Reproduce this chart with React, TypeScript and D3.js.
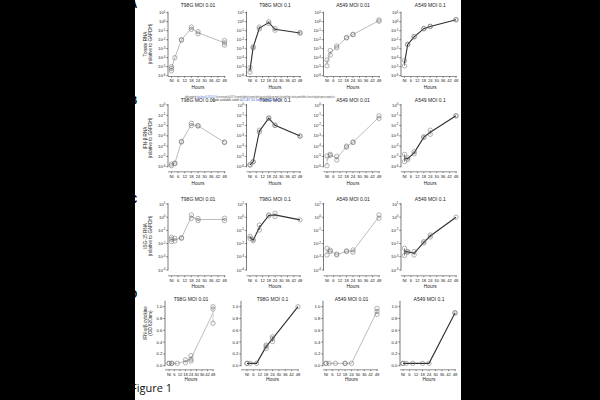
import * as d3 from "d3";

// time points (NI plotted at 0 h)
const hours = [0, 3, 9, 18, 24, 48];
const xTickValues = [0, 6, 12, 18, 24, 30, 36, 42, 48];
const xTickLabels = ["NI", "6", "12", "18", "24", "30", "36", "42", "48"];

const panelTitles = ["T98G MOI 0.01", "T98G MOI 0.1", "A549 MOI 0.01", "A549 MOI 0.1"];
const rowLabels = [
  ["Tonate RNA", "(relative to GAPDH)"],
  ["IFN-\u03b2 RNA", "(relative to GAPDH)"],
  ["ISG-15 RNA", "(relative to GAPDH)"],
  ["IFN-\u03b1/\u03b2 cytokine", "(OD 620nm)"],
];
const panelLetters = ["A", "B", "C", "D"];

// log10 exponents of RNA (relative to GAPDH), replicates per time point
const tonateT98G001 = [[-5.0, -5.45, -5.2], [-4.0], [-2.0, -2.05], [-0.6, -0.85], [-1.1, -1.35], [-2.1, -2.35, -2.6]];
const tonateT98G01 = [[-5.1, -5.6], [-2.8, -2.9], [-0.6, -0.8], [0.0, -0.2], [-0.75, -0.95], [-1.2, -1.3]];
const tonateA549001 = [[-4.25, -4.9], [-3.7, -3.2], [-2.9, -2.7], [-1.75, -1.8], [-1.4, -1.45], [0.2, 0.05]];
const tonateA54901 = [[-4.3, -4.9], [-2.5, -2.55], [-1.65, -1.7], [-0.75, -0.8], [-0.5, -0.55], [0.2, 0.25]];

const ifnbT98G001 = [[-5.9, -5.75], [-5.65, -5.7], [-3.55, -3.6], [-1.78, -2.0], [-2.0, -2.05], [-3.6, -3.65]];
const ifnbT98G01 = [[-5.8, -5.85], [-5.5, -5.55], [-2.65, -2.45], [-1.25, -1.3], [-1.95, -2.0], [-3.0, -3.05]];
const ifnbA549001 = [[-5.9, -4.95], [-4.8, -4.9], [-5.0, -5.35], [-4.0, -4.1], [-3.6, -3.65], [-1.05, -1.3]];
const ifnbA54901 = [[-4.8, -5.5], [-5.15, -5.3], [-4.55, -4.75], [-3.1, -3.15], [-2.45, -2.85], [-1.05, -1.05]];

const isg15T98G001 = [[-1.52, -1.67, -1.85], [-1.6, -1.8], [-1.55, -1.6], [0.17, -0.08], [-0.26, -0.1], [-0.08, -0.26]];
const isg15T98G01 = [[-1.45, -1.6], [-1.78, -1.7], [-0.97, -0.6], [0.17, 0.1], [0.3, 0.05], [-0.2]];
const isg15A549001 = [[-2.36, -2.86], [-2.6, -2.5], [-2.86, -2.8], [-2.6, -2.55], [-2.48, -2.65], [0.17, -0.08]];
const isg15A54901 = [[-2.36, -2.9], [-2.6, -2.65], [-2.6, -2.86], [-1.85, -1.95], [-1.35, -1.5], [0.0]];

// IFN-a/b bioassay, OD 620nm
const cytoT98G001 = [[0.04, 0.04], [0.04, 0.04], [0.04], [0.05, 0.1], [0.08, 0.11, 0.17], [0.72, 0.96, 1.0]];
const cytoT98G01 = [[0.04, 0.04], [0.04], [0.04], [0.29, 0.35, 0.33], [0.41, 0.46, 0.49], [1.0]];
const cytoA549001 = [[0.04, 0.04], [0.04], [0.04], [0.04, 0.04], [0.04], [0.97, 0.92, 0.87]];
const cytoA54901 = [[0.04, 0.04], [0.04], [0.04], [0.04], [0.04], [0.89, 0.9]];

const rowData = [
  [tonateT98G001, tonateT98G01, tonateA549001, tonateA54901],
  [ifnbT98G001, ifnbT98G01, ifnbA549001, ifnbA54901],
  [isg15T98G001, isg15T98G01, isg15A549001, isg15A54901],
  [cytoT98G001, cytoT98G01, cytoA549001, cytoA54901],
];
const logExtents = [[-6, 1], [-6, 0], [-4, 1]];

// layout
const rows = [
  { top: 12.7, bottom: 75.7, titleY: 5, tickY: 80.7, hoursY: 87.3, labelY: 44, letterY: 8 },
  { top: 105, bottom: 166.7, titleY: 100, tickY: 176, hoursY: 183.3, labelY: 138, letterY: 104 },
  { top: 204, bottom: 270, titleY: 199.5, tickY: 280, hoursY: 286.7, labelY: 236, letterY: 203 },
  { top: 306.7, bottom: 365.7, titleY: 299, tickY: 374, hoursY: 379.7, labelY: 323, letterY: 298 },
];
const axisX = [
  [168, 246.5, 323.5, 401],
  [168, 246.5, 323.5, 401],
  [168, 246.5, 323.5, 401],
  [165, 241, 323, 400],
];
const plotX = [
  [[171.5, 224.5], [250, 300], [327, 379], [404.5, 456]],
  [[171.5, 224.5], [250, 300], [327, 379], [404.5, 456]],
  [[171.5, 224.5], [250, 300], [327, 379], [404.5, 456]],
  [[169, 213], [247, 298], [326, 377], [403, 455]],
];
const lineColors = ["#b4b4b4", "#2e2e2e", "#b4b4b4", "#2e2e2e"];
const FONT = "'Liberation Sans', Arial, sans-serif";

type PanelProps = { r: number; c: number };

const Panel = ({ r, c }: PanelProps) => {
  const row = rows[r];
  const ax = axisX[r][c];
  const [x0, x1] = plotX[r][c];
  const x = d3.scaleLinear().domain([0, 48]).range([x0, x1]);
  const isLog = r < 3;
  const raw = rowData[r][c];
  const values = raw.map((reps) => reps.map((v) => (isLog ? Math.pow(10, v) : v)));
  let y: (v: number) => number;
  let yTicks: { v: number; label: any }[] = [];
  let axisTop = row.top;
  if (isLog) {
    const [lo, hi] = logExtents[r];
    const s = d3.scaleLog().domain([Math.pow(10, lo), Math.pow(10, hi)]).range([row.bottom, row.top]);
    y = (v) => s(v);
    yTicks = d3.range(lo, hi + 1).map((e) => ({
      v: Math.pow(10, e),
      label: (
        <>
          <tspan>10</tspan>
          <tspan dy={-1.6} fontSize={3}>
            {e}
          </tspan>
        </>
      ),
    }));
    axisTop = row.top - 1;
  } else {
    const s = d3.scaleLinear().domain([0, 1]).range([row.bottom, row.top]);
    y = (v) => s(v);
    yTicks = d3.range(0, 1.01, 0.2).map((v) => ({ v, label: d3.format(".1f")(v) }));
    axisTop = s(1.1);
  }
  const means = values.map((reps) =>
    isLog ? Math.pow(10, d3.mean(reps.map((v) => Math.log10(v))) as number) : (d3.mean(reps) as number)
  );
  const line = d3
    .line<number>()
    .x((_, i) => x(hours[i]))
    .y((d) => y(d));
  const color = lineColors[c];
  const cx = (x0 + x1) / 2;
  const baseY = row.tickY - 4.2;

  return (
    <g>
      <text x={cx} y={row.titleY + 1.8} fontSize={5} textAnchor="middle" fill="#222">
        {panelTitles[c]}
      </text>
      {/* y axis */}
      <line x1={ax} x2={ax} y1={axisTop} y2={row.bottom + 0.5} stroke="#222" strokeWidth={0.6} />
      {yTicks.map((t, i) => (
        <g key={i}>
          <line x1={ax - 1.8} x2={ax} y1={y(t.v)} y2={y(t.v)} stroke="#222" strokeWidth={0.5} />
          <text x={ax - 2.6} y={y(t.v) + 1.5} fontSize={4.2} textAnchor="end" fill="#222">
            {t.label}
          </text>
        </g>
      ))}
      {/* x axis */}
      <line x1={ax} x2={x1 + 1} y1={baseY} y2={baseY} stroke="#222" strokeWidth={0.5} />
      {xTickValues.map((h, i) => (
        <g key={i}>
          <line x1={x(h)} x2={x(h)} y1={baseY} y2={baseY + 1.4} stroke="#222" strokeWidth={0.5} />
          <text x={x(h)} y={row.tickY + 1.5} fontSize={4.2} textAnchor="middle" fill="#222">
            {xTickLabels[i]}
          </text>
        </g>
      ))}
      <text x={cx} y={row.hoursY + 1.7} fontSize={4.8} textAnchor="middle" fill="#222">
        Hours
      </text>
      {/* error bars */}
      {values.map((reps, i) =>
        reps.length > 1 ? (
          <line
            key={i}
            x1={x(hours[i])}
            x2={x(hours[i])}
            y1={y(d3.min(reps) as number)}
            y2={y(d3.max(reps) as number)}
            stroke={color}
            strokeWidth={0.6}
          />
        ) : null
      )}
      <path d={line(means) || ""} fill="none" stroke={color} strokeWidth={c % 2 ? 1.1 : 0.9} />
      {values.map((reps, i) =>
        reps.map((v, j) => (
          <circle key={i + "-" + j} cx={x(hours[i])} cy={y(v)} r={2.2} fill="none" stroke="#666" strokeWidth={0.5} />
        ))
      )}
    </g>
  );
};

export default function App() {
  return (
    <svg
      width={600}
      height={400}
      style={{ position: "absolute", left: 0, top: 0 }}
      fontFamily={FONT}
    >
      <rect x={0} y={0} width={600} height={400} fill="#fff" />
      {rows.map((row, r) => (
        <g key={r}>
          <text
            transform={`translate(146.5,${row.labelY}) rotate(-90)`}
            fontSize={4.6}
            textAnchor="middle"
            fill="#222"
          >
            {rowLabels[r][0]}
          </text>
          <text
            transform={`translate(151.5,${row.labelY}) rotate(-90)`}
            fontSize={4.6}
            textAnchor="middle"
            fill="#222"
          >
            {rowLabels[r][1]}
          </text>
          {panelTitles.map((_, c) => (
            <Panel key={c} r={r} c={c} />
          ))}
          <text x={130} y={row.letterY} fontSize={10} fontWeight="bold" fill="#000">
            {panelLetters[r]}
          </text>
        </g>
      ))}
      {/* preprint header */}
      <text x={185} y={97.6} fontSize={3} fill="#333" textLength={150} lengthAdjust="spacingAndGlyphs">
        bioRxiv preprint doi: <tspan fill="#2a4fd0">https://doi.org/10.1101/2020.07</tspan>; this version posted July 2020. The copyright holder for this preprint (which was not certified by peer review) is the author/funder, who has granted bioRxiv a license to display the preprint in perpetuity. It is
      </text>
      <text x={212} y={101} fontSize={3} fill="#333" textLength={70} lengthAdjust="spacingAndGlyphs">
        made available under a<tspan fill="#2a4fd0">CC-BY 4.0 International license</tspan>.
      </text>
      <text x={131} y={392} fontSize={11} fontFamily="'Open Sans', sans-serif" fill="#111">
        Figure 1
      </text>
      <rect x={0} y={0} width={135} height={400} fill="#000" />
      <rect x={461} y={0} width={139} height={400} fill="#000" />
    </svg>
  );
}
